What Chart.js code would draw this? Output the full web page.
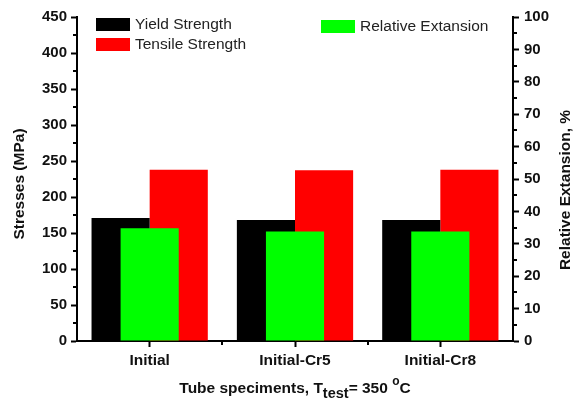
<!DOCTYPE html>
<html>
<head>
<meta charset="utf-8">
<script src="https://cdn.jsdelivr.net/npm/chart.js@4/dist/chart.umd.min.js"></script>
<style>
  html, body { margin: 0; padding: 0; background: #fff; }
  #wrap { width: 575px; height: 403px; position: relative; }
</style>
</head>
<body>
<div id="wrap"><canvas id="chart"></canvas></div>
<script>
// Tube specimens tested at 350 °C
const categories = ['Initial', 'Initial-Cr5', 'Initial-Cr8'];
const yieldStrength = [171, 168, 168];        // MPa
const tensileStrength = [238, 237, 238];      // MPa
const relativeExtension = [34.8, 33.8, 33.8]; // %

const seriesNames = ['Yield Strength', 'Tensile Strength', 'Relative Extansion'];
const stressTitle = 'Stresses (MPa)';
const extensionTitle = 'Relative Extansion, %';

const FONT = "'Liberation Sans', Arial, sans-serif";

// minor ticks, x-axis title with sub/superscript, rotated axis titles, split legend
const decorations = {
  id: 'decorations',
  afterDraw(chart) {
    const ctx = chart.ctx;
    const ca = chart.chartArea;
    const y = chart.scales.y, y2 = chart.scales.y2, x = chart.scales.x;
    ctx.save();
    ctx.strokeStyle = '#000';
    ctx.lineWidth = 2;
    ctx.beginPath();
    for (let v = 25; v < 450; v += 50) {
      const p = Math.round(y.getPixelForValue(v));
      ctx.moveTo(ca.left, p); ctx.lineTo(ca.left - 4, p);
    }
    for (let v = 5; v < 100; v += 10) {
      const p = Math.round(y2.getPixelForValue(v));
      ctx.moveTo(ca.right, p); ctx.lineTo(ca.right + 4, p);
    }
    for (let i = 0; i < categories.length - 1; i++) {
      const p = Math.round((x.getPixelForValue(i) + x.getPixelForValue(i + 1)) / 2);
      ctx.moveTo(p, ca.bottom); ctx.lineTo(p, ca.bottom + 4);
    }
    ctx.stroke();

    // vertical axis titles, both reading bottom to top
    ctx.fillStyle = '#111';
    ctx.font = 'bold 15.5px ' + FONT;
    ctx.textAlign = 'center';
    ctx.textBaseline = 'middle';
    const midY = (ca.top + ca.bottom) / 2;
    ctx.save();
    ctx.translate(20, midY + 5);
    ctx.rotate(-Math.PI / 2);
    ctx.fillText(stressTitle, 0, 0);
    ctx.restore();
    ctx.save();
    ctx.translate(566, midY + 11);
    ctx.rotate(-Math.PI / 2);
    ctx.fillText(extensionTitle, 0, 0);
    ctx.restore();

    // x-axis title: Tube speciments, T_test = 350 °C
    const parts = [
      { t: 'Tube speciments, T', size: 15.5, dy: 0 },
      { t: 'test', size: 14.5, dy: 5 },
      { t: '= 350 ', size: 15.5, dy: 0 },
      { t: 'o', size: 12, dy: -8 },
      { t: 'C', size: 15.5, dy: 0 }
    ];
    let total = 0;
    parts.forEach(p => { ctx.font = 'bold ' + p.size + 'px ' + FONT; p.w = ctx.measureText(p.t).width; total += p.w; });
    let px = (ca.left + ca.right) / 2 - total / 2;
    const base = 393;
    ctx.textAlign = 'left';
    ctx.textBaseline = 'alphabetic';
    parts.forEach(p => {
      ctx.font = 'bold ' + p.size + 'px ' + FONT;
      ctx.fillText(p.t, px, base + p.dy);
      px += p.w;
    });

    // legend
    const ds = chart.data.datasets;
    const items = [
      { i: 0, x: ca.left + 19, y: ca.top + 1 },
      { i: 1, x: ca.left + 19, y: ca.top + 21 },
      { i: 2, x: ca.left + 244, y: ca.top + 3 }
    ];
    ctx.font = '15.5px ' + FONT;
    ctx.textBaseline = 'middle';
    items.forEach(it => {
      ctx.fillStyle = ds[it.i].backgroundColor;
      ctx.fillRect(it.x, it.y, 34, 13);
      ctx.fillStyle = '#222';
      ctx.fillText(ds[it.i].label, it.x + 39, it.y + 7);
    });
    ctx.restore();
  }
};

const tickFont = { family: FONT, size: 15, weight: 'bold' };

new Chart(document.getElementById('chart'), {
  type: 'bar',
  data: {
    labels: categories,
    datasets: [
      { label: seriesNames[0], data: yieldStrength, backgroundColor: '#000000', yAxisID: 'y', order: 1 },
      { label: seriesNames[1], data: tensileStrength, backgroundColor: '#ff0000', yAxisID: 'y', order: 1 },
      // centred over the pair, on the right-hand axis
      { label: seriesNames[2], data: relativeExtension, backgroundColor: '#00ff00', yAxisID: 'y2', order: 0,
        grouped: false, barPercentage: 0.5 }
    ]
  },
  options: {
    responsive: true,
    maintainAspectRatio: false,
    animation: false,
    layout: { padding: { top: 17, left: 0, right: 0, bottom: 0 } },
    datasets: { bar: { categoryPercentage: 0.8, barPercentage: 1.0, borderWidth: 0 } },
    plugins: { legend: { display: false }, tooltip: { enabled: false } },
    scales: {
      x: {
        type: 'category',
        offset: true,
        grid: { display: true, drawOnChartArea: false, drawTicks: true, tickLength: 6, tickColor: '#000', tickWidth: 2, offset: false },
        border: { display: true, color: '#000', width: 2 },
        ticks: { color: '#111', font: { family: FONT, size: 15.5, weight: 'bold' }, padding: 4, maxRotation: 0 },
        afterFit(s) { s.height = 62; }
      },
      y: {
        position: 'left',
        min: 0, max: 450,
        ticks: { stepSize: 50, color: '#111', font: tickFont, padding: 4 },
        grid: { drawOnChartArea: false, drawTicks: true, tickLength: 6, tickColor: '#000', tickWidth: 2 },
        border: { display: true, color: '#000', width: 2 },
        afterFit(s) { s.width = 77; }
      },
      y2: {
        position: 'right',
        min: 0, max: 100,
        ticks: { stepSize: 10, color: '#111', font: tickFont, padding: 5 },
        grid: { drawOnChartArea: false, drawTicks: true, tickLength: 6, tickColor: '#000', tickWidth: 2 },
        border: { display: true, color: '#000', width: 2 },
        afterFit(s) { s.width = 62; }
      }
    }
  },
  plugins: [decorations]
});
</script>
</body>
</html>
